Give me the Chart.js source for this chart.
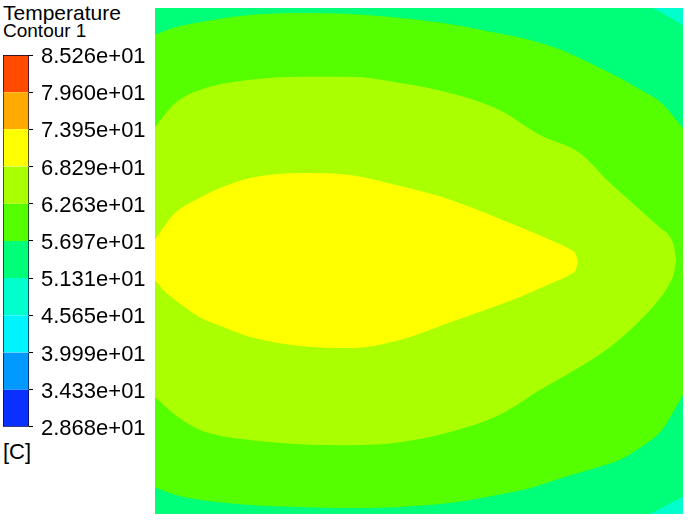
<!DOCTYPE html>
<html>
<head>
<meta charset="utf-8">
<script src="https://cdn.jsdelivr.net/npm/chart.js@4/dist/chart.umd.min.js"></script>
<style>
  body { margin: 0; background: #fff; width: 690px; height: 528px; overflow: hidden; position: relative; font-family: "Liberation Sans", Arial, sans-serif; }
  .txt { position: absolute; left: 3px; line-height: 1; color: #000; white-space: nowrap; }
  #legendBox { position: absolute; left: 0; top: 30px; width: 160px; height: 418px; }
  #plotBox { position: absolute; left: 155px; top: 8px; width: 528px; height: 506px; }
</style>
</head>
<body>
<div class="txt" style="top:2px;font-size:21px">Temperature</div>
<div class="txt" style="top:21px;font-size:19px">Contour 1</div>
<div class="txt" style="top:441px;font-size:22px">[C]</div>
<div id="legendBox"><canvas id="legendChart"></canvas></div>
<div id="plotBox"><canvas id="plotChart"></canvas></div>

<script>
// colour map levels (bottom to top)
const levels = [28.68, 34.33, 39.99, 45.65, 51.31, 56.97, 62.63, 68.29, 73.95, 79.60, 85.26]
const tickLabels = ['2.868e+01', '3.433e+01', '3.999e+01', '4.565e+01', '5.131e+01', '5.697e+01',
  '6.263e+01', '6.829e+01', '7.395e+01', '7.960e+01', '8.526e+01']
const bandColors = ['#0a30ff', '#0099ff', '#00f4ff', '#00ffcc', '#00ff78', '#55ff00',
  '#aaff00', '#ffff00', '#ffaa00', '#ff4a00']

// contour lines in domain units (0..100 both ways)
// 5.697e+01 line
const c1X   = [0, 3.8, 8.5, 18, 27.5, 37, 46.5, 56, 65, 71, 77, 84, 88, 92, 96, 100]
const c1Top = [94.7, 96.2, 97.2, 98.6, 99.0, 98.8, 98.0, 96.8, 95.0, 93.7, 91.7, 88.3, 86.2, 83.8, 81.2, 76.3]
const c1Bot = [5.3, 3.8, 2.8, 1.8, 1.4, 1.2, 1.4, 2.2, 3.8, 5.1, 7.1, 9.3, 10.7, 13.2, 16.6, 23.5]
// 6.263e+01 line
const c2X   = [0, 3.8, 8.5, 18, 27.5, 36.9, 46.4, 55.9, 65.3, 72.9, 80.5, 86.2, 91.9, 95.6, 97.5, 98.3, 98.7]
const c2Top = [76.5, 81.2, 83.8, 85.8, 86.4, 86.4, 85.2, 83.2, 79.8, 74.9, 71.3, 65.4, 60.1, 56.6, 54.8, 52.8, 50.2]
const c2Bot = [23.1, 19.6, 16.6, 14.6, 13.8, 13.6, 14.2, 16.2, 19.6, 24.5, 29.1, 33.0, 38.3, 42.6, 45.6, 47.7, 50.2]
// 6.829e+01 line
const c3X   = [0, 1.9, 3.8, 8.5, 13.3, 18, 27.5, 36.9, 46.4, 55.9, 69.1, 74.8, 78.6, 79.7, 80.1]
const c3Top = [54.2, 57.1, 59.5, 62.5, 64.8, 66.4, 67.4, 67.0, 64.8, 62.1, 56.7, 54.2, 52.3, 51.3, 49.8]
const c3Bot = [46.2, 43.9, 42.3, 38.9, 36.8, 35.0, 33.2, 32.8, 34.4, 37.9, 42.9, 45.5, 47.3, 48.3, 49.8]
// small 4.565e+01 corners on the right wall
const cornerTopX = [94.3, 100], cornerTopY = [100, 96.6]
const cornerBotX = [93.75, 100], cornerBotY = [0, 3.4]

function pts(xs, ys) {
  return xs.map((x, i) => ({x: x, y: ys[i]}))
}

function line(data, color, fill, order) {
  return {
    data: data,
    backgroundColor: color,
    borderWidth: 0,
    pointRadius: 0,
    cubicInterpolationMode: 'monotone',
    fill: fill,
    order: order
  }
}

function drawPlot() {
  var datasets = [
    line(pts([0, 100], [100, 100]), bandColors[4], 'origin', 20),
    line(pts(cornerTopX, cornerTopY), bandColors[3], 'end', 19),
    line(pts(cornerBotX, cornerBotY), bandColors[3], 'start', 18),
    line(pts(c1X, c1Bot), bandColors[5], false, 17),
    line(pts(c1X, c1Top), bandColors[5], '-1', 16),
    line(pts(c2X, c2Bot), bandColors[6], false, 15),
    line(pts(c2X, c2Top), bandColors[6], '-1', 14),
    line(pts(c3X, c3Bot), bandColors[7], false, 13),
    line(pts(c3X, c3Top), bandColors[7], '-1', 12)
  ]
  new Chart(document.getElementById('plotChart'), {
    type: 'line',
    data: { datasets: datasets },
    options: {
      responsive: true,
      maintainAspectRatio: false,
      animation: false,
      layout: { padding: 0 },
      plugins: { legend: { display: false }, tooltip: { enabled: false } },
      scales: {
        x: { type: 'linear', min: 0, max: 100, display: false },
        y: { type: 'linear', min: 0, max: 100, display: false }
      }
    }
  })
}

function drawLegend() {
  var sets = []
  for (var i = 0; i < bandColors.length; i++) {
    sets.push({
      data: [[levels[i], levels[i + 1]]],
      backgroundColor: bandColors[i],
      borderColor: '#000033',
      borderWidth: { left: 1, right: 1, top: i == bandColors.length - 1 ? 1 : 0, bottom: i == 0 ? 1 : 0 },
      borderSkipped: false,
      barPercentage: 1,
      categoryPercentage: 1,
      grouped: false
    })
  }
  new Chart(document.getElementById('legendChart'), {
    type: 'bar',
    data: { labels: ['T'], datasets: sets },
    options: {
      responsive: true,
      maintainAspectRatio: false,
      animation: false,
      layout: { padding: { left: 3, top: 25, bottom: 20, right: 0 } },
      plugins: { legend: { display: false }, tooltip: { enabled: false } },
      scales: {
        x: { display: false },
        y: {
          position: 'right',
          min: levels[0],
          max: levels[levels.length - 1],
          afterBuildTicks: function (scale) {
            scale.ticks = levels.map(v => ({ value: v }))
          },
          afterFit: function (scale) { scale.width = 131 },
          ticks: {
            autoSkip: false,
            padding: 8,
            labelOffset: 2,
            color: '#000',
            font: { family: '"Liberation Sans", Arial, sans-serif', size: 22 },
            callback: function (v, i) { return tickLabels[i] }
          },
          grid: { drawOnChartArea: false, tickLength: 4, color: '#000' },
          border: { display: false }
        }
      }
    }
  })
}

drawPlot()
drawLegend()
</script>
</body>
</html>
